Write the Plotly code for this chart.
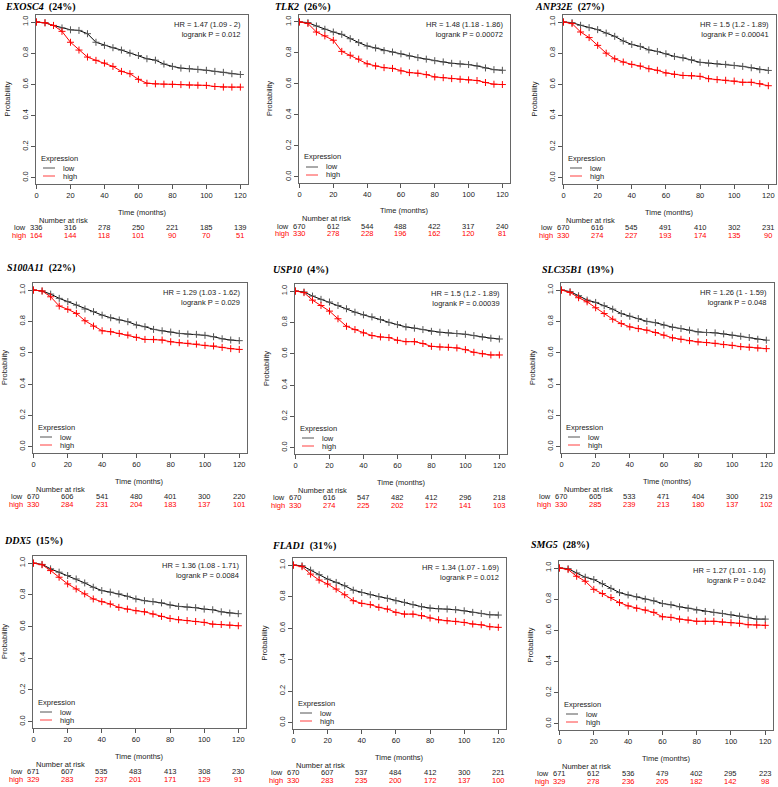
import plotly.graph_objects as go

# survival read at every 5 months (0..120)
months = list(range(0, 125, 5))
risk_months = [0, 20, 40, 60, 80, 100, 120]

exosc4_low = [1.0, 0.995, 0.978, 0.962, 0.95, 0.946, 0.925, 0.87, 0.85, 0.835, 0.82, 0.80, 0.785,
              0.764, 0.755, 0.73, 0.715, 0.704, 0.70, 0.696, 0.69, 0.683, 0.677, 0.668, 0.663]
exosc4_high = [1.0, 0.995, 0.978, 0.94, 0.87, 0.82, 0.775, 0.754, 0.736, 0.715, 0.683, 0.668, 0.632,
               0.607, 0.603, 0.601, 0.60, 0.598, 0.595, 0.594, 0.593, 0.586, 0.582, 0.582, 0.582]
tlk2_low = [1.0, 0.996, 0.974, 0.953, 0.935, 0.92, 0.892, 0.867, 0.845, 0.832, 0.815, 0.806, 0.794,
            0.78, 0.77, 0.76, 0.75, 0.742, 0.733, 0.729, 0.725, 0.716, 0.703, 0.692, 0.688]
tlk2_high = [1.0, 0.99, 0.935, 0.91, 0.882, 0.81, 0.785, 0.76, 0.73, 0.716, 0.705, 0.70, 0.684,
             0.673, 0.669, 0.66, 0.645, 0.64, 0.634, 0.63, 0.626, 0.622, 0.609, 0.598, 0.596]
anp32e_low = [1.0, 0.996, 0.979, 0.964, 0.951, 0.929, 0.908, 0.878, 0.856, 0.843, 0.821, 0.811, 0.796,
              0.779, 0.77, 0.757, 0.741, 0.736, 0.732, 0.728, 0.721, 0.715, 0.706, 0.694, 0.689]
anp32e_high = [1.0, 0.99, 0.936, 0.90, 0.85, 0.80, 0.764, 0.743, 0.728, 0.717, 0.70, 0.69, 0.673,
               0.664, 0.657, 0.655, 0.651, 0.636, 0.63, 0.626, 0.621, 0.613, 0.613, 0.604, 0.591]
s100a11_low = [1.0, 0.994, 0.974, 0.947, 0.926, 0.904, 0.879, 0.862, 0.84, 0.823, 0.809, 0.798, 0.777,
               0.766, 0.749, 0.74, 0.732, 0.723, 0.719, 0.717, 0.711, 0.702, 0.689, 0.681, 0.677]
s100a11_high = [1.0, 0.994, 0.957, 0.898, 0.877, 0.851, 0.804, 0.77, 0.74, 0.734, 0.723, 0.713, 0.698,
                0.685, 0.685, 0.681, 0.67, 0.664, 0.66, 0.655, 0.647, 0.643, 0.634, 0.626, 0.621]
usp10_low = [1.0, 0.994, 0.968, 0.947, 0.93, 0.908, 0.887, 0.865, 0.848, 0.835, 0.818, 0.80, 0.786,
             0.771, 0.763, 0.754, 0.743, 0.737, 0.733, 0.729, 0.724, 0.716, 0.707, 0.699, 0.694]
usp10_high = [1.0, 0.99, 0.942, 0.908, 0.872, 0.823, 0.775, 0.754, 0.733, 0.716, 0.707, 0.703, 0.686,
              0.677, 0.677, 0.665, 0.647, 0.643, 0.641, 0.637, 0.626, 0.609, 0.60, 0.592, 0.592]
slc35b1_low = [1.0, 0.99, 0.964, 0.936, 0.921, 0.90, 0.878, 0.85, 0.833, 0.818, 0.80, 0.792, 0.776,
               0.763, 0.754, 0.744, 0.733, 0.729, 0.727, 0.72, 0.712, 0.705, 0.697, 0.686, 0.68]
slc35b1_high = [1.0, 0.985, 0.951, 0.925, 0.887, 0.85, 0.814, 0.786, 0.765, 0.754, 0.744, 0.729, 0.712,
                0.695, 0.686, 0.677, 0.669, 0.665, 0.66, 0.652, 0.647, 0.639, 0.635, 0.63, 0.626]
ddx5_low = [1.0, 0.992, 0.964, 0.943, 0.922, 0.90, 0.875, 0.848, 0.827, 0.817, 0.806, 0.791, 0.774,
            0.763, 0.757, 0.749, 0.736, 0.727, 0.723, 0.719, 0.71, 0.706, 0.693, 0.685, 0.681]
ddx5_high = [1.0, 0.99, 0.953, 0.911, 0.869, 0.837, 0.806, 0.774, 0.757, 0.742, 0.721, 0.71, 0.70,
             0.693, 0.679, 0.664, 0.651, 0.643, 0.638, 0.632, 0.626, 0.615, 0.613, 0.609, 0.605]
flad1_low = [1.0, 0.996, 0.968, 0.939, 0.911, 0.89, 0.869, 0.841, 0.826, 0.812, 0.80, 0.789, 0.774,
             0.763, 0.749, 0.736, 0.727, 0.723, 0.721, 0.717, 0.71, 0.70, 0.693, 0.685, 0.683]
flad1_high = [1.0, 0.99, 0.943, 0.905, 0.88, 0.848, 0.812, 0.774, 0.757, 0.749, 0.732, 0.721, 0.70,
              0.689, 0.689, 0.679, 0.664, 0.653, 0.647, 0.643, 0.636, 0.626, 0.621, 0.609, 0.605]
smg5_low = [1.0, 0.996, 0.968, 0.941, 0.926, 0.899, 0.869, 0.842, 0.827, 0.815, 0.80, 0.789, 0.772,
            0.764, 0.751, 0.742, 0.73, 0.721, 0.715, 0.708, 0.70, 0.691, 0.683, 0.672, 0.672]
smg5_high = [1.0, 0.99, 0.947, 0.915, 0.863, 0.836, 0.81, 0.778, 0.757, 0.742, 0.73, 0.715, 0.687,
             0.683, 0.672, 0.666, 0.658, 0.658, 0.658, 0.653, 0.649, 0.645, 0.636, 0.634, 0.632]

# number at risk
exosc4_risk_low = [336, 316, 278, 250, 221, 185, 139]
exosc4_risk_high = [164, 144, 118, 101, 90, 70, 51]
tlk2_risk_low = [670, 612, 544, 488, 422, 317, 240]
tlk2_risk_high = [330, 278, 228, 196, 162, 120, 81]
anp32e_risk_low = [670, 616, 545, 491, 410, 302, 231]
anp32e_risk_high = [330, 274, 227, 193, 174, 135, 90]
s100a11_risk_low = [670, 606, 541, 480, 401, 300, 220]
s100a11_risk_high = [330, 284, 231, 204, 183, 137, 101]
usp10_risk_low = [670, 616, 547, 482, 412, 296, 218]
usp10_risk_high = [330, 274, 225, 202, 172, 141, 103]
slc35b1_risk_low = [670, 605, 533, 471, 404, 300, 219]
slc35b1_risk_high = [330, 285, 239, 213, 180, 137, 102]
ddx5_risk_low = [671, 607, 535, 483, 413, 308, 230]
ddx5_risk_high = [329, 283, 237, 201, 171, 129, 91]
flad1_risk_low = [670, 607, 537, 484, 412, 300, 221]
flad1_risk_high = [330, 283, 235, 200, 172, 137, 100]
smg5_risk_low = [671, 612, 536, 479, 402, 295, 223]
smg5_risk_high = [329, 278, 236, 205, 182, 142, 98]

genes = ['EXOSC4', 'TLK2', 'ANP32E', 'S100A11', 'USP10', 'SLC35B1', 'DDX5', 'FLAD1', 'SMG5']
percents = [24, 26, 27, 22, 4, 19, 15, 31, 28]
hr_texts = ['HR = 1.47 (1.09 - 2)', 'HR = 1.48 (1.18 - 1.86)', 'HR = 1.5 (1.2 - 1.89)',
            'HR = 1.29 (1.03 - 1.62)', 'HR = 1.5 (1.2 - 1.89)', 'HR = 1.26 (1 - 1.59)',
            'HR = 1.36 (1.08 - 1.71)', 'HR = 1.34 (1.07 - 1.69)', 'HR = 1.27 (1.01 - 1.6)']
p_texts = ['0.012', '0.00072', '0.00041', '0.029', '0.00039', '0.048', '0.0084', '0.012', '0.042']

lows = [exosc4_low, tlk2_low, anp32e_low, s100a11_low, usp10_low, slc35b1_low, ddx5_low, flad1_low, smg5_low]
highs = [exosc4_high, tlk2_high, anp32e_high, s100a11_high, usp10_high, slc35b1_high, ddx5_high,
         flad1_high, smg5_high]
risk_lows = [exosc4_risk_low, tlk2_risk_low, anp32e_risk_low, s100a11_risk_low, usp10_risk_low,
             slc35b1_risk_low, ddx5_risk_low, flad1_risk_low, smg5_risk_low]
risk_highs = [exosc4_risk_high, tlk2_risk_high, anp32e_risk_high, s100a11_risk_high, usp10_risk_high,
              slc35b1_risk_high, ddx5_risk_high, flad1_risk_high, smg5_risk_high]

W, H = 778, 787
# plot boxes in pixels: left, right, top, bottom
boxes = [(36, 248, 15, 184), (299, 510, 15, 183), (563, 776, 15, 184),
         (33, 247, 283, 453), (295, 507, 284, 454), (561, 774, 283, 453),
         (33, 246, 556, 728), (293, 506, 558, 729), (559, 773, 561, 730)]
title_pos = [(3, 7), (273, 7), (533, 7), (5, 268), (271, 270), (540, 270), (2, 541), (270, 546), (529, 545)]

SANS = 'Liberation Sans, Arial, sans-serif'
SERIF = 'Liberation Serif, Times New Roman, serif'
TXT = '#222222'
RED = '#ff0000'
FS = 7.5

fig = go.Figure()
annotations = []
shapes = []
layout = {}

for i, gene in enumerate(genes):
    n = i + 1
    sfx = '' if n == 1 else str(n)
    xa, ya = 'x' + sfx, 'y' + sfx
    left, right, top, bottom = boxes[i]

    layout['xaxis' + sfx] = dict(
        domain=[left / W, right / W], anchor=ya, range=[-0.3, 124.5],
        tickvals=risk_months, ticks='outside', ticklen=4, tickcolor='#555',
        showline=True, mirror=True, linecolor='#666', linewidth=1,
        showgrid=False, zeroline=False, automargin=False,
        tickfont=dict(family=SANS, size=FS, color=TXT))
    layout['yaxis' + sfx] = dict(
        domain=[1 - bottom / H, 1 - top / H], anchor=xa, range=[-0.04, 1.045],
        tickvals=[0, 0.2, 0.4, 0.6, 0.8, 1.0], ticktext=['0.0', '0.2', '0.4', '0.6', '0.8', '1.0'],
        tickangle=-90, ticks='outside', ticklen=4, tickcolor='#555',
        showline=True, mirror=True, linecolor='#666', linewidth=1,
        showgrid=False, zeroline=False, automargin=False,
        tickfont=dict(family=SANS, size=FS, color=TXT))

    for vals, lc, mc in ((lows[i], 'black', '#555'), (highs[i], RED, RED)):
        fig.add_trace(go.Scatter(
            x=months, y=vals, xaxis=xa, yaxis=ya, mode='lines+markers',
            line=dict(color=lc, width=1),
            marker=dict(symbol='cross-thin', size=5, line=dict(color=mc, width=1)),
            showlegend=False, hoverinfo='skip'))

    xd, yd = xa + ' domain', ya + ' domain'
    tx, ty = title_pos[i]
    annotations.append(dict(
        xref='paper', yref='paper', x=tx / W, y=1 - ty / H, xanchor='left', yanchor='middle',
        text=f'<b><i>{gene}</i>  ({percents[i]}%)</b>', showarrow=False,
        font=dict(family=SERIF, size=10, color='black')))
    annotations.append(dict(
        xref=xd, yref=yd, x=1, y=1, xanchor='right', yanchor='top', xshift=-5, yshift=-3,
        align='right', showarrow=False, text=f'{hr_texts[i]}<br>logrank P = {p_texts[i]}',
        font=dict(family=SANS, size=FS, color=TXT)))
    annotations.append(dict(
        xref=xd, yref=yd, x=0.5, y=0, yshift=-28, xanchor='center', yanchor='middle',
        text='Time (months)', showarrow=False, font=dict(family=SANS, size=FS, color=TXT)))
    annotations.append(dict(
        xref=xd, yref=yd, x=0, y=0.5, xshift=-29, xanchor='center', yanchor='middle',
        textangle=-90, text='Probability', showarrow=False,
        font=dict(family=SANS, size=FS, color=TXT)))

    # legend inside the box
    annotations.append(dict(
        xref=xd, yref=yd, x=0, y=0, xshift=3, yshift=26, xanchor='left', yanchor='middle',
        text='Expression', showarrow=False, font=dict(family=SANS, size=FS, color=TXT)))
    for lbl, col, dy in (('low', '#555', 16), ('high', '#ff4040', 8)):
        annotations.append(dict(
            xref=xd, yref=yd, x=0, y=0, xshift=25, yshift=dy, xanchor='left', yanchor='middle',
            text=lbl, showarrow=False, font=dict(family=SANS, size=FS, color=TXT)))
        shapes.append(dict(
            type='line', xref=xd, yref=yd, xsizemode='pixel', ysizemode='pixel',
            xanchor=0, yanchor=0, x0=7, x1=19, y0=dy, y1=dy, line=dict(color=col, width=1)))

    # number at risk table
    annotations.append(dict(
        xref=xa, yref=yd, x=0, y=0, yshift=-36, xanchor='left', yanchor='middle',
        text='Number at risk', showarrow=False, font=dict(family=SANS, size=FS, color=TXT)))
    for lbl, row, col, dy in (('low', risk_lows[i], TXT, -43.5), ('high', risk_highs[i], RED, -51)):
        annotations.append(dict(
            xref=xa, yref=yd, x=0, y=0, xshift=-9, yshift=dy, xanchor='right', yanchor='middle',
            text=lbl, showarrow=False, font=dict(family=SANS, size=FS, color=col)))
        for t, v in zip(risk_months, row):
            annotations.append(dict(
                xref=xa, yref=yd, x=t, y=0, yshift=dy, xanchor='center', yanchor='middle',
                text=str(v), showarrow=False, font=dict(family=SANS, size=FS, color=col)))

fig.update_layout(
    width=W, height=H, margin=dict(l=0, r=0, t=0, b=0),
    paper_bgcolor='white', plot_bgcolor='white',
    annotations=annotations, shapes=shapes, **layout)

# page margin would push the fixed-size figure out of the window
fig.write_html('out.html', config={'displayModeBar': False},
               post_script="document.body.style.margin='0';"
                           "document.body.style.overflow='hidden';")
